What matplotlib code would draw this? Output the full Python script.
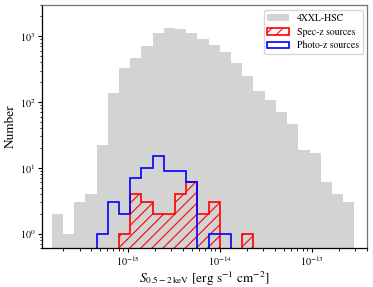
import numpy as np
import matplotlib
matplotlib.use("Agg")
import matplotlib.pyplot as plt
from matplotlib.ticker import FixedLocator, LogFormatterSciNotation

plt.rcParams['font.family'] = ['STIXGeneral', 'DejaVu Serif']
plt.rcParams['mathtext.fontset'] = 'stix'
plt.rcParams['hatch.linewidth'] = 0.8

# log10 of bin edges (27 log-spaced bins)
log_edge_min = -15.824
log_edge_max = -12.535
n_bins = 27

all_counts = [2, 1, 3, 4, 22, 138, 325, 472, 702, 1107, 1319, 1300, 1107, 919,
              727, 574, 387, 248, 147, 106, 70, 47, 19, 17, 6, 4, 3]
specz_counts = [0, 0, 0, 0, 0, 0, 1, 4, 3, 2, 2, 4, 6, 2, 3, 0, 0, 1, 0, 0, 0,
                0, 0, 0, 0, 0, 0]
photoz_counts = [0, 0, 0, 0, 1, 3, 2, 7, 10, 15, 9, 9, 6, 0, 1, 1, 0, 0, 0, 0,
                 0, 0, 0, 0, 0, 0, 0]

labels = ['4XXL-HSC', 'Spec-z sources', 'Photo-z sources']
x_major_ticks = [1e-15, 1e-14, 1e-13]
y_major_ticks = [1e0, 1e1, 1e2, 1e3]

edges = np.logspace(log_edge_min, log_edge_max, n_bins + 1)
centers = np.sqrt(edges[:-1] * edges[1:])

fig = plt.figure(figsize=(3.73, 2.87), dpi=100)
ax = fig.add_axes([0.112, 0.135, 0.873, 0.848])

ax.hist(centers, bins=edges, weights=all_counts, histtype='bar', rwidth=1.0,
        color='lightgray', label=labels[0])
ax.hist(centers, bins=edges, weights=specz_counts, histtype='step',
        color='red', hatch='///', lw=1.2, label=labels[1])
ax.hist(centers, bins=edges, weights=photoz_counts, histtype='step',
        color='blue', lw=1.2, label=labels[2])

ax.set_xscale('log')
ax.set_yscale('log')
ax.set_xlim(10**-15.933, 10**-12.393)
ax.set_ylim(0.6, 3000)
ax.xaxis.set_major_locator(FixedLocator(x_major_ticks))
ax.yaxis.set_major_locator(FixedLocator(y_major_ticks))
ax.xaxis.set_major_formatter(LogFormatterSciNotation())
ax.yaxis.set_major_formatter(LogFormatterSciNotation())

ax.set_xlabel(r'$S_{0.5-2\,\rm keV}$ [erg s$^{-1}$ cm$^{-2}$]', fontsize=9.5,
              labelpad=1.5)
ax.set_ylabel('Number', fontsize=9.5, labelpad=2)
ax.tick_params(axis='both', which='major', labelsize=7.3, length=3, pad=1.5,
               width=0.8)
ax.tick_params(axis='both', which='minor', length=1.8, width=0.6)

for s in ['top', 'right']:
    ax.spines[s].set_color('0.45')
for s in ax.spines.values():
    s.set_linewidth(0.9)

ax.legend(loc='upper right', fontsize=7, borderpad=0.4, labelspacing=0.4,
          handlelength=2.2)

fig.savefig('out.png', dpi=100)
